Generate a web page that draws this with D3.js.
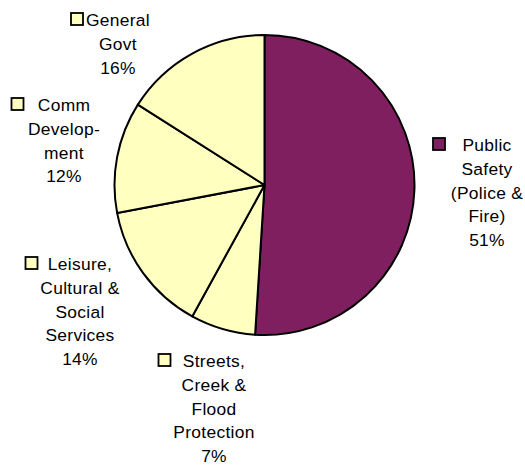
<!DOCTYPE html>
<html>
<head>
<meta charset="utf-8">
<script src="https://cdn.jsdelivr.net/npm/d3@7"></script>
<style>
  html, body { margin: 0; padding: 0; background: #fff; }
  svg { display: block; }
  text { font-family: "Liberation Sans", Arial, sans-serif; fill: #000; }
</style>
</head>
<body>
<svg id="chart" width="525" height="468"></svg>
<script>
// Budget shares by service area, clockwise from 12 o'clock
const categories = [
  ["Public", "Safety", "(Police &", "Fire)"],
  ["Streets,", "Creek &", "Flood", "Protection"],
  ["Leisure,", "Cultural &", "Social", "Services"],
  ["Comm", "Develop-", "ment"],
  ["General", "Govt"]
];
const shares = [51, 7, 14, 12, 16];
const sliceColors = ["#801f5f", "#ffffc0", "#ffffc0", "#ffffc0", "#ffffc0"];

// Label block placement: centre x of the text column, first-line baseline,
// and the left edge of the legend key
const labelAnchors = [
  { x: 487, y: 151, keyX: 432 },
  { x: 214, y: 367, keyX: 157.5 },
  { x: 80,  y: 270, keyX: 24.5 },
  { x: 64,  y: 111, keyX: 10.5 },
  { x: 118, y: 26,  keyX: 70 }
];

const cx = 264.5, cy = 185, radius = 150;
const fontSize = 17.4, lineGap = 23.8, keySize = 12;

const svg = d3.select("#chart");

const slices = shares.map((v, i) => ({ value: v, lines: categories[i], color: sliceColors[i], anchor: labelAnchors[i] }));

const pie = d3.pie().sort(null).value(d => d.value);
const arc = d3.arc().innerRadius(0).outerRadius(radius);

const g = svg.append("g").attr("transform", `translate(${cx},${cy})`);
g.selectAll("path")
  .data(pie(slices))
  .join("path")
  .attr("d", arc)
  .attr("fill", d => d.data.color)
  .attr("stroke", "#000")
  .attr("stroke-width", 2)
  .attr("stroke-linejoin", "round");

const total = d3.sum(shares);
const pct = d3.format(".0%");

const labels = svg.selectAll("g.label")
  .data(slices)
  .join("g")
  .attr("class", "label");

labels.each(function(d) {
  const sel = d3.select(this);
  const lines = d.lines.concat([pct(d.value / total)]);
  const t = sel.append("text")
    .attr("text-anchor", "middle")
    .attr("font-size", fontSize)
    .attr("letter-spacing", 0.3);
  lines.forEach((ln, k) => {
    t.append("tspan")
      .attr("x", d.anchor.x)
      .attr("y", d.anchor.y + k * lineGap)
      .text(ln);
  });
  // legend key beside the first line
  sel.append("rect")
    .attr("x", d.anchor.keyX + 1)
    .attr("y", d.anchor.y - 13)
    .attr("width", keySize)
    .attr("height", keySize)
    .attr("fill", d.color)
    .attr("stroke", "#000")
    .attr("stroke-width", 1.8);
});
</script>
</body>
</html>
